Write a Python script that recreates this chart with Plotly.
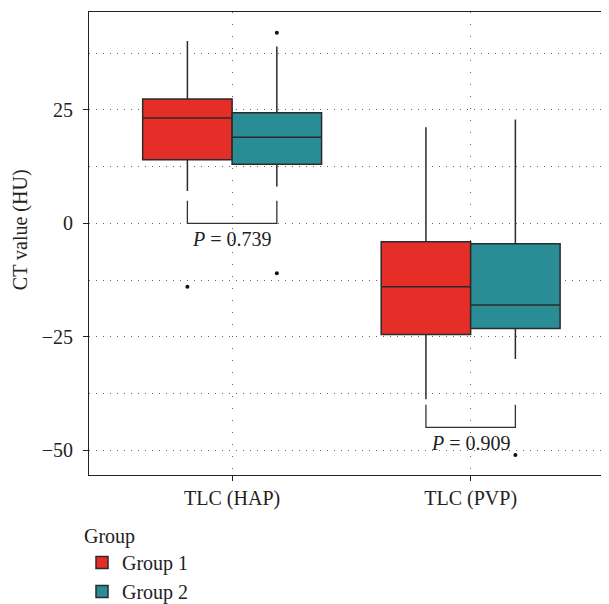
import plotly.graph_objects as go

categories = ["TLC (HAP)", "TLC (PVP)"]
groups = ["Group 1", "Group 2"]
y_title = "CT value (HU)"

# box statistics per category
g1_q1 = [14.0, -24.5]
g1_median = [23.2, -14.0]
g1_q3 = [27.4, -4.05]
g1_low = [7.1, -38.8]
g1_up = [40.2, 21.2]

g2_q1 = [13.0, -23.2]
g2_median = [19.0, -18.0]
g2_q3 = [24.4, -4.5]
g2_low = [8.1, -29.9]
g2_up = [39.0, 22.9]

# outliers (category index, value)
g1_out_cat = [0]
g1_out_val = [-14.0]
g2_out_cat = [0, 0, 1]
g2_out_val = [42.0, -11.0, -51.1]

# significance brackets
p_labels = ["<i>P</i> = 0.739", "<i>P</i> = 0.909"]
bracket_base = [0.0, -45.0]
bracket_height = 5.0

colors = ["#E52E27", "#2A8C94"]
line_col = "#2b2b2b"
font_family = "Liberation Serif"

dodge = 0.75
bw = dodge / 2
offsets = [-dodge / 4, dodge / 4]

fig = go.Figure()

stats = [
    (g1_q1, g1_median, g1_q3, g1_low, g1_up),
    (g2_q1, g2_median, g2_q3, g2_low, g2_up),
]
outs = [(g1_out_cat, g1_out_val), (g2_out_cat, g2_out_val)]

for gi, (q1, med, q3, lo, up) in enumerate(stats):
    xs = [i + 1 + offsets[gi] for i in range(len(categories))]
    fig.add_trace(go.Box(
        x=xs, q1=q1, median=med, q3=q3, lowerfence=lo, upperfence=up,
        width=bw, fillcolor=colors[gi], line=dict(color=line_col, width=1.5),
        whiskerwidth=0, boxpoints=False, name=groups[gi], showlegend=True,
        hoverinfo="skip",
    ))

for gi, (cats, vals) in enumerate(outs):
    fig.add_trace(go.Scatter(
        x=[c + 1 + offsets[gi] for c in cats], y=vals, mode="markers",
        marker=dict(color="#111111", size=4), showlegend=False, hoverinfo="skip",
    ))

for ci, base in enumerate(bracket_base):
    xl = ci + 1 + offsets[0]
    xr = ci + 1 + offsets[1]
    fig.add_trace(go.Scatter(
        x=[xl, xl, xr, xr], y=[base + bracket_height, base, base, base + bracket_height],
        mode="lines", line=dict(color="#333333", width=1.3),
        showlegend=False, hoverinfo="skip",
    ))
    fig.add_annotation(
        x=ci + 1, y=base, text=p_labels[ci], showarrow=False,
        yanchor="top", xanchor="center", yshift=-3,
        font=dict(family=font_family, size=20, color="#222222"),
    )

# y-axis title drawn as a rotated annotation left of the tick labels
fig.add_annotation(
    xref="paper", yref="paper", x=-0.1327, y=0.531, text=y_title,
    textangle=-90, showarrow=False, xanchor="center", yanchor="middle",
    font=dict(family=font_family, size=20, color="#222222"),
)

# the page body adds an 8px offset; margins compensate for it
fig.update_layout(
    width=609, height=604,
    margin=dict(l=81, r=8, t=4, b=137, autoexpand=False),
    plot_bgcolor="white", paper_bgcolor="white",
    font=dict(family=font_family, size=20, color="#222222"),
    legend=dict(
        title=dict(text="Group", font=dict(family=font_family, size=20)),
        xref="container", yref="container",
        x=(74 / 609), xanchor="left", y=1 - (509 / 604), yanchor="top",
        font=dict(family=font_family, size=20), tracegroupgap=0,
        bgcolor="rgba(0,0,0,0)",
    ),
)

fig.update_xaxes(
    range=[0.4, 2.58], tickvals=[1, 2], ticktext=categories,
    showgrid=True, gridcolor="#666666", gridwidth=1, griddash="1px,11px",
    showline=True, linecolor="#222222", linewidth=1, mirror=True,
    ticks="outside", ticklen=5, tickcolor="#222222", zeroline=False,
)
fig.update_yaxes(
    range=[-55.5, 46.6], tickvals=[-50, -25, 0, 25], ticktext=["\u221250", "\u221225", "0", "25"],
    showgrid=True, gridcolor="#666666", gridwidth=1, griddash="1px,6px",
    minor=dict(dtick=12.5, tick0=0, showgrid=True, gridcolor="#666666", gridwidth=1, griddash="1px,6px"),
    showline=True, linecolor="#222222", linewidth=1, mirror=False,
    ticks="outside", ticklen=5, tickcolor="#222222", zeroline=False,
    ticklabelstandoff=6,
)

fig.write_html("out.html")
